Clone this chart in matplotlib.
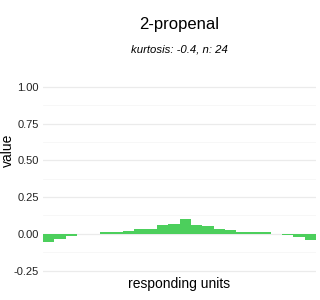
import numpy as np
import matplotlib
matplotlib.use('Agg')
import matplotlib.pyplot as plt

plt.rcParams['font.family'] = ['Liberation Sans', 'DejaVu Sans']

title = "2-propenal"
subtitle = "kurtosis: -0.4, n: 24"
units = np.arange(1, 25)
values = [-0.057, -0.034, -0.014, 0.0, 0.0, 0.01, 0.01, 0.02,
          0.034, 0.034, 0.061, 0.068, 0.10, 0.061, 0.055, 0.034,
          0.027, 0.01, 0.01, 0.01, 0.0, -0.007, -0.02, -0.041]
yticks = [-0.25, 0.0, 0.25, 0.5, 0.75, 1.0]

fig = plt.figure(figsize=(3.2, 3.0), dpi=100)
# panel roughly x 43-316, y 77-276 in pixels
ax = fig.add_axes([43/320, 1 - 276/300, 273/320, 199/300])

ax.bar(units, values, width=1.0, color="#4CCF5C", linewidth=0, zorder=3)

ax.set_xlim(0.5, 24.5)
ax.set_ylim(-0.287, 1.067)
ax.set_yticks(yticks)
ax.set_yticklabels(["-0.25", "0.00", "0.25", "0.50", "0.75", "1.00"])
ax.set_yticks([-0.125, 0.125, 0.375, 0.625, 0.875], minor=True)
ax.set_xticks([])

ax.grid(axis='y', which='major', color="#EBEBEB", linewidth=0.9, zorder=0)
ax.grid(axis='y', which='minor', color="#F6F6F6", linewidth=0.6, zorder=0)
for s in ax.spines.values():
    s.set_visible(False)
ax.tick_params(axis='y', which='both', length=0, labelsize=8,
               labelcolor="#222222", pad=3)

ax.set_xlabel("responding units", fontsize=10)
ax.xaxis.set_label_coords(0.5, -0.005, transform=ax.transAxes)
ax.xaxis.label.set_va('top')
ax.set_ylabel("value", fontsize=10)
ax.yaxis.set_label_coords(8/320, 0.5, transform=fig.transFigure)
ax.yaxis.label.set_va('center')

fig.text(179.5/320, 1 - 25/300, title, ha='center', va='center', fontsize=12)
fig.text(179.5/320, 1 - 49/300, subtitle, ha='center', va='center',
         fontsize=8.2, style='italic')

fig.savefig("out.png", dpi=100)
